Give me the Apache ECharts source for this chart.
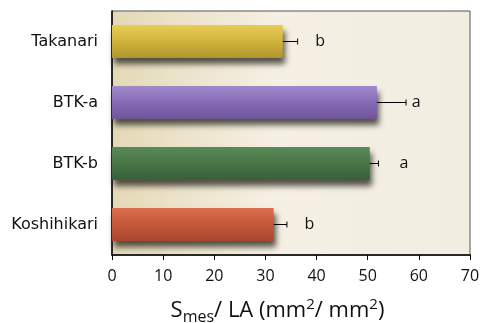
<!DOCTYPE html>
<html><head><meta charset="utf-8">
<script src="https://cdn.jsdelivr.net/npm/echarts@6/dist/echarts.min.js"></script>
<style>html,body{margin:0;padding:0;background:#fff}#c{width:480px;height:323px}</style>
</head><body><div id="c"></div>
<script>
const categories = ['Koshihikari', 'BTK-b', 'BTK-a', 'Takanari'];
const values = [31.6, 50.4, 51.8, 33.4];
const errorUpper = [34.2, 52.1, 57.5, 36.3];
const letters = ['b', 'a', 'a', 'b'];
const letterX = [38.6, 57.1, 59.5, 40.7];
const xTicks = [0, 10, 20, 30, 40, 50, 60, 70];

const barColors = [
  ['#dc6c4c', '#c65a3c', '#a8472e'],
  ['#5a8a58', '#4a7748', '#3a5f3a'],
  ['#a08acb', '#8a6db8', '#6e559a'],
  ['#e8cc58', '#d4b63e', '#b0952c']
];

const chart = echarts.init(document.getElementById('c'));
chart.setOption({
  animation: false,
  grid: {
    left: 112, right: 10, top: 11, bottom: 68,
    outerBoundsMode: 'none', containLabel: false,
    show: true,
    borderColor: '#555', borderWidth: 1,
    backgroundColor: {
      type: 'linear', x: 0, y: 0, x2: 1, y2: 0,
      colorStops: [
        {offset: 0, color: '#e4d9b6'},
        {offset: 0.45, color: '#f6f0e4'},
        {offset: 1, color: '#f1ede1'}
      ]
    }
  },
  xAxis: {
    type: 'value', min: 0, max: 70, interval: 10,
    axisLine: {show: true, lineStyle: {color: '#000', width: 1.5}},
    axisTick: {show: true, length: 5, lineStyle: {color: '#000'}},
    splitLine: {show: false},
    axisLabel: {color: '#111', fontSize: 16, fontFamily: 'Open Sans', margin: 13,
      formatter: v => xTicks.includes(v) ? String(v) : ''},
    name: '{a|S}{sub|mes}{a|/ LA (mm}{sup|2}{a|/ mm}{sup|2}{a|)}',
    nameLocation: 'middle', nameGap: 42,
    nameTextStyle: {
      padding: [0, 27, 0, 0],
      rich: {
        a: {fontSize: 22, fontFamily: 'Open Sans', color: '#111', lineHeight: 28, verticalAlign: 'middle'},
        sub: {fontSize: 16, fontFamily: 'Open Sans', color: '#111', lineHeight: 16, verticalAlign: 'bottom'},
        sup: {fontSize: 15, fontFamily: 'Open Sans', color: '#111', lineHeight: 15, verticalAlign: 'top'}
      }
    }
  },
  yAxis: {
    type: 'category', data: categories,
    axisLine: {show: true, lineStyle: {color: '#000', width: 1.5}},
    axisTick: {show: false},
    axisLabel: {color: '#111', fontSize: 16, fontFamily: 'DejaVu Sans', margin: 14}
  },
  series: [
    {
      type: 'bar', barWidth: 33,
      data: values.map((v, i) => ({
        value: v,
        itemStyle: {
          color: {type: 'linear', x: 0, y: 0, x2: 0, y2: 1, colorStops: [
            {offset: 0, color: barColors[i][0]},
            {offset: 0.45, color: barColors[i][1]},
            {offset: 1, color: barColors[i][2]}
          ]},
          shadowColor: 'rgba(30,30,20,0.75)', shadowBlur: 6, shadowOffsetY: 6, shadowOffsetX: 2
        }
      }))
    },
    {
      type: 'custom',
      data: values.map((v, i) => [i, v, errorUpper[i], letterX[i]]),
      renderItem: (params, api) => {
        const i = api.value(0);
        const s = api.coord([api.value(1), i]);
        const e = api.coord([api.value(2), i]);
        const l = api.coord([api.value(3), i]);
        return {
          type: 'group',
          children: [
            {type: 'line', shape: {x1: s[0], y1: s[1], x2: e[0], y2: e[1]}, style: {stroke: '#000', lineWidth: 1}},
            {type: 'line', shape: {x1: e[0], y1: e[1] - 3, x2: e[0], y2: e[1] + 3}, style: {stroke: '#000', lineWidth: 1}},
            {type: 'text', x: l[0], y: l[1], style: {text: letters[i], fontSize: 16, fontFamily: 'Open Sans', fill: '#111', align: 'center', verticalAlign: 'middle'}}
          ]
        };
      },
      z: 5
    }
  ]
});
</script></body></html>
